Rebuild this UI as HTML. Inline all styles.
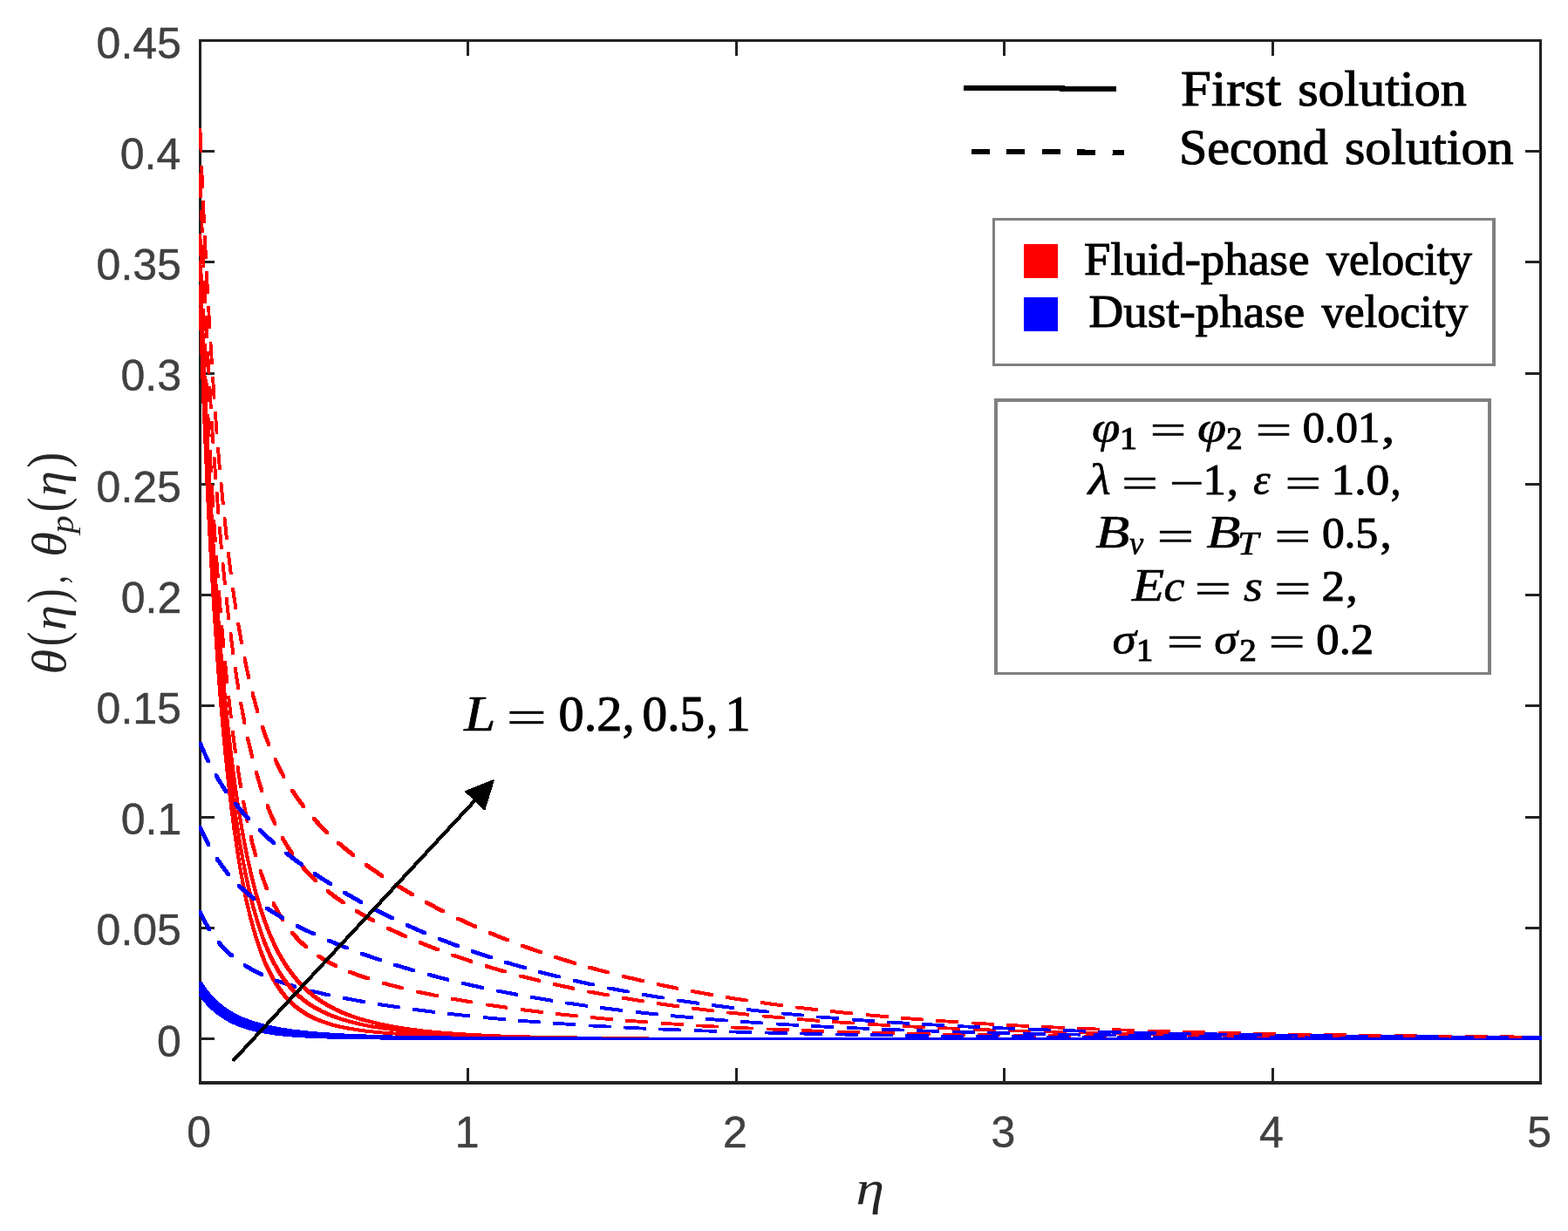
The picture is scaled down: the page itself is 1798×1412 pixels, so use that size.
<!DOCTYPE html>
<html lang="en">
<head>
<meta charset="utf-8">
<title>Temperature profiles for different values of L</title>
<style>
html,body{margin:0;padding:0;background:#fff}
body{width:1798px;height:1412px;overflow:hidden}
svg{display:block}
text{font-kerning:none;white-space:pre}
.sans{font-family:"Liberation Sans",sans-serif;fill:#404040;stroke:#404040;stroke-width:0.45px}
.rm{font-family:"Liberation Serif",serif;fill:#000;stroke:#000;stroke-width:1.1px}
.it{font-family:"Liberation Serif",serif;font-style:italic;fill:#000;stroke:#000;stroke-width:0.6px}
.lab{fill:#262626;stroke:none}
.op{stroke:#000;stroke-width:0.5px}
</style>
</head>
<body>
<svg width="1798" height="1412" viewBox="0 0 1798 1412" role="img" aria-label="Temperature profiles of fluid and dust phases for L = 0.2, 0.5, 1">
<rect x="0" y="0" width="1798" height="1412" fill="#ffffff"/>
<g stroke="#222222" stroke-width="3" fill="none" shape-rendering="crispEdges">
<path d="M229.5 46.5H1766.5V1242.0H229.5Z" stroke-width="3.2"/>
<path d="M536.9 1242.0V1224.5M536.9 46.5V64.0M844.3 1242.0V1224.5M844.3 46.5V64.0M1151.7 1242.0V1224.5M1151.7 46.5V64.0M1459.1 1242.0V1224.5M1459.1 46.5V64.0M229.5 1191.5H246.0M1766.5 1191.5H1749.0M229.5 1064.3H246.0M1766.5 1064.3H1749.0M229.5 937.1H246.0M1766.5 937.1H1749.0M229.5 809.8H246.0M1766.5 809.8H1749.0M229.5 682.6H246.0M1766.5 682.6H1749.0M229.5 555.4H246.0M1766.5 555.4H1749.0M229.5 428.2H246.0M1766.5 428.2H1749.0M229.5 300.9H246.0M1766.5 300.9H1749.0M229.5 173.7H246.0M1766.5 173.7H1749.0"/>
</g>
<g shape-rendering="crispEdges">
<path d="M227.7 351.5L231.3 351.5L234.9 454L239.1 551.7L241.4 598.4L243.9 643.5L246.4 686.3L249.1 726.7L251.8 764.9L254.5 800.3L257.4 833.5L260.4 865.1L263.6 894.9L266.7 922L270 947.2L273.5 971.1L276.9 992.3L280.5 1012.2L284.3 1030.8L288.2 1047.5L292.3 1063L296.7 1077.6L301.1 1090.4L305.9 1102.5L311 1113.3L316.2 1123L321.8 1131.8L324.7 1135.7L327.7 1139.6L330.9 1143.2L334 1146.5L337.3 1149.7L340.8 1152.8L344.4 1155.6L348.1 1158.2L352.1 1160.8L356.2 1163.1L362.5 1166.3L369.1 1169.1L376.2 1171.6L384 1174L392.3 1176L401.4 1177.8L411.2 1179.4L421.8 1180.9L433.5 1182.1L446.3 1183.2L460.6 1184.2L476.5 1185.1L514.3 1186.6L560.6 1187.7L603.7 1188.3L654.2 1188.8L694.4 1189.1L743.8 1189.1L744.3 1189.7L1768.3 1189.7L1768.3 1193.3L1764.7 1193.3L740.7 1193.3L740.2 1192.7L690.8 1192.7L650.6 1192.4L600.1 1191.9L557 1191.3L510.7 1190.2L472.9 1188.7L457 1187.8L442.7 1186.8L429.9 1185.7L418.2 1184.5L407.6 1183L397.8 1181.4L388.7 1179.6L380.4 1177.6L372.6 1175.2L365.5 1172.7L358.9 1169.9L352.6 1166.7L348.5 1164.4L344.5 1161.8L340.8 1159.2L337.2 1156.4L333.7 1153.3L330.4 1150.1L327.3 1146.8L324.1 1143.2L321.1 1139.3L318.2 1135.4L312.6 1126.6L307.4 1116.9L302.3 1106.1L297.5 1094L293.1 1081.2L288.7 1066.6L284.6 1051.1L280.7 1034.4L276.9 1015.8L273.3 995.9L269.9 974.7L266.4 950.8L263.1 925.6L260 898.5L256.8 868.7L253.8 837.1L250.9 803.9L248.2 768.5L245.5 730.3L242.8 689.9L240.3 647.1L237.8 602L235.5 555.3L231.3 457.6L227.7 355.1Z" fill="#ff0000"/>
<path d="M227.7 1138.5L231.3 1138.5L236.5 1145L241.9 1151L247.7 1156.4L253.7 1161.2L260.1 1165.5L266.9 1169.4L274.1 1172.8L281.8 1175.8L290 1178.3L298.8 1180.5L308.3 1182.3L318.7 1183.9L330.1 1185.2L342.8 1186.3L357.3 1187.1L373.6 1187.8L408.7 1188.6L458.4 1189.1L544.4 1189.4L689.8 1189.6L690.3 1189.7L1768.3 1189.7L1768.3 1193.3L1764.7 1193.3L686.7 1193.3L686.2 1193.2L540.8 1193L454.8 1192.7L405.1 1192.2L370 1191.4L353.7 1190.7L339.2 1189.9L326.5 1188.8L315.1 1187.5L304.7 1185.9L295.2 1184.1L286.4 1181.9L278.2 1179.4L270.5 1176.4L263.3 1173L256.5 1169.1L250.1 1164.8L244.1 1160L238.3 1154.6L232.9 1148.6L227.7 1142.1Z" fill="#0000ff"/>
<path d="M227.7 268.3L231.3 268.3L232.3 295.6L232.3 299.2L228.7 299.2L227.7 271.9ZM229.5 313.6L233.1 313.6L234 336L234 339.6L230.4 339.6L229.5 317.2ZM231.1 354L234.7 354L235.7 376.4L235.7 380L232.1 380L231.1 357.6ZM232.9 394.4L236.5 394.4L237.5 416.9L237.5 420.5L233.9 420.5L232.9 398ZM234.7 434.8L238.3 434.8L239.4 457.3L239.4 460.9L235.8 460.9L234.7 438.4ZM236.7 475.2L240.3 475.2L241.5 497.7L241.5 501.3L237.9 501.3L236.7 478.8ZM238.9 515.6L242.5 515.6L243.7 538L243.7 541.6L240.1 541.6L238.9 519.2ZM241.2 556L244.8 556L246.1 578.4L246.1 582L242.5 582L241.2 559.6ZM243.6 596.3L247.2 596.3L248.7 618.8L248.7 622.4L245.1 622.4L243.6 599.9ZM246.3 636.7L249.9 636.7L251.6 659.1L251.6 662.7L248 662.7L246.3 640.3ZM249.3 677L252.9 677L254.7 699.5L254.7 703.1L251.1 703.1L249.3 680.6ZM252.6 717.4L256.2 717.4L258.2 739.8L258.2 743.4L254.6 743.4L252.6 721ZM256.2 757.6L259.8 757.6L262.1 780L262.1 783.6L258.5 783.6L256.2 761.2ZM260.4 797.9L264 797.9L266.5 820.2L266.5 823.8L262.9 823.8L260.4 801.5ZM265.1 838.1L268.7 838.1L271.7 860.4L271.7 864L268.1 864L265.1 841.7ZM270.7 878.1L274.3 878.1L277.8 900.3L277.8 903.9L274.2 903.9L270.7 881.7ZM277.4 918L281 918L285.4 940.1L285.4 943.7L281.8 943.7L277.4 921.6ZM285.7 957.6L289.3 957.6L292 968.5L294.9 979.4L294.9 983L291.3 983L288.4 972.1L285.7 961.2ZM296.5 996.5L300.1 996.5L304 1007.6L307.8 1017.7L307.8 1021.3L304.2 1021.3L300.4 1011.2L296.5 1000.1ZM311.5 1034.1L315.1 1034.1L320.5 1044.2L326.2 1053.7L326.2 1057.3L322.6 1057.3L316.9 1047.8L311.5 1037.7ZM333.2 1068.1L336.8 1068.1L340.6 1072.4L344.4 1076.5L348.5 1080.4L352.6 1084.1L352.6 1087.7L349 1087.7L344.9 1084L340.8 1080.1L337 1076L333.2 1071.7ZM363.4 1094.8L367 1094.8L376.4 1100.6L386.6 1105.9L386.6 1109.5L383 1109.5L372.8 1104.2L363.4 1098.4ZM399.4 1113.1L403 1113.1L413.1 1116.9L424.2 1120.7L424.2 1124.3L420.6 1124.3L409.5 1120.5L399.4 1116.7ZM437.8 1125.9L441.4 1125.9L463.1 1131.7L463.1 1135.3L459.5 1135.3L437.8 1129.5ZM477 1135.8L480.6 1135.8L502.6 1140.4L502.6 1144L499 1144L477 1139.4ZM516.6 1143.8L520.2 1143.8L542.4 1147.7L542.4 1151.3L538.8 1151.3L516.6 1147.4ZM556.5 1150.6L560.1 1150.6L582.4 1153.9L582.4 1157.5L578.8 1157.5L556.5 1154.2ZM596.5 1156.3L600.1 1156.3L622.5 1159.1L622.5 1162.7L618.9 1162.7L596.5 1159.9ZM636.7 1161.2L640.3 1161.2L662.7 1163.6L662.7 1167.2L659.1 1167.2L636.7 1164.8ZM676.9 1165.3L680.5 1165.3L702.9 1167.4L702.9 1171L699.3 1171L676.9 1168.9ZM717.2 1168.9L720.8 1168.9L743.3 1170.6L743.3 1174.2L739.7 1174.2L717.2 1172.5ZM757.6 1171.9L761.2 1171.9L783.6 1173.4L783.6 1177L780 1177L757.6 1175.5ZM797.9 1174.5L801.5 1174.5L824 1175.8L824 1179.4L820.4 1179.4L797.9 1178.1ZM838.3 1176.7L841.9 1176.7L864.4 1177.8L864.4 1181.4L860.8 1181.4L838.3 1180.3ZM878.7 1178.6L882.3 1178.6L904.8 1179.5L904.8 1183.1L901.2 1183.1L878.7 1182.2ZM919.1 1180.2L922.7 1180.2L945.2 1181L945.2 1184.6L941.6 1184.6L919.1 1183.8ZM959.6 1181.5L963.2 1181.5L985.7 1182.2L985.7 1185.8L982.1 1185.8L959.6 1185.1ZM1000 1182.7L1003.6 1182.7L1026.1 1183.3L1026.1 1186.9L1022.5 1186.9L1000 1186.3ZM1040.4 1183.7L1044 1183.7L1066.5 1184.2L1066.5 1187.8L1062.9 1187.8L1040.4 1187.3ZM1080.9 1184.5L1084.5 1184.5L1107 1185L1107 1188.6L1103.4 1188.6L1080.9 1188.1ZM1121.3 1185.3L1124.9 1185.3L1147.4 1185.6L1147.4 1189.2L1143.8 1189.2L1121.3 1188.9ZM1161.8 1185.9L1165.4 1185.9L1187.9 1186.2L1187.9 1189.8L1184.3 1189.8L1161.8 1189.5ZM1202.2 1186.4L1205.8 1186.4L1228.3 1186.7L1228.3 1190.3L1224.7 1190.3L1202.2 1190ZM1242.7 1186.8L1246.3 1186.8L1268.8 1187.1L1268.8 1190.7L1265.2 1190.7L1242.7 1190.4ZM1283.1 1187.2L1286.7 1187.2L1309.2 1187.4L1309.2 1191L1305.6 1191L1283.1 1190.8ZM1323.6 1187.6L1327.2 1187.6L1349.7 1187.7L1349.7 1191.3L1346.1 1191.3L1323.6 1191.2ZM1364 1187.8L1367.6 1187.8L1390.1 1188L1390.1 1191.6L1386.5 1191.6L1364 1191.4ZM1404.5 1188.1L1408.1 1188.1L1430.6 1188.2L1430.6 1191.8L1427 1191.8L1404.5 1191.7ZM1444.9 1188.3L1448.5 1188.3L1471 1188.4L1471 1192L1467.4 1192L1444.9 1191.9ZM1485.4 1188.4L1489 1188.4L1511.5 1188.5L1511.5 1192.1L1507.9 1192.1L1485.4 1192ZM1525.8 1188.6L1529.4 1188.6L1551.9 1188.7L1551.9 1192.3L1548.3 1192.3L1525.8 1192.2ZM1566.3 1188.7L1569.9 1188.7L1592.4 1188.8L1592.4 1192.4L1588.8 1192.4L1566.3 1192.3ZM1606.7 1188.8L1610.3 1188.8L1632.8 1188.9L1632.8 1192.5L1629.2 1192.5L1606.7 1192.4ZM1647.2 1188.9L1650.8 1188.9L1673.3 1189L1673.3 1192.6L1669.7 1192.6L1647.2 1192.5ZM1687.6 1189L1691.2 1189L1713.7 1189L1713.7 1192.6L1710.1 1192.6L1687.6 1192.6ZM1728.1 1189.1L1731.7 1189.1L1754.2 1189.1L1754.2 1192.7L1750.6 1192.7L1728.1 1192.7Z" fill="#ff0000"/>
<path d="M227.7 1044.2L231.3 1044.2L233.6 1049.4L236.2 1054.4L238.9 1059.3L241.7 1064.1L241.7 1067.7L238.1 1067.7L235.3 1062.9L232.6 1058L230 1053L227.7 1047.8ZM248.6 1078.7L252.2 1078.7L255.8 1083L259.7 1087.1L263.7 1091L267.9 1094.7L267.9 1098.3L264.3 1098.3L260.1 1094.6L256.1 1090.7L252.2 1086.6L248.6 1082.3ZM278.7 1105.4L282.3 1105.4L291.8 1110.9L302.1 1116.1L302.1 1119.7L298.5 1119.7L288.2 1114.5L278.7 1109ZM315.1 1122.9L318.7 1122.9L329 1126.5L340.1 1129.9L340.1 1133.5L336.5 1133.5L325.4 1130.1L315.1 1126.5ZM353.8 1134.6L357.4 1134.6L379.3 1139.7L379.3 1143.3L375.7 1143.3L353.8 1138.2ZM393.3 1143.2L396.9 1143.2L419.1 1147.3L419.1 1150.9L415.5 1150.9L393.3 1146.8ZM433.2 1150.3L436.8 1150.3L459 1153.6L459 1157.2L455.4 1157.2L433.2 1153.9ZM473.2 1156.1L476.8 1156.1L499.1 1159L499.1 1162.6L495.5 1162.6L473.2 1159.7ZM513.3 1161.1L516.9 1161.1L539.3 1163.5L539.3 1167.1L535.7 1167.1L513.3 1164.7ZM553.6 1165.3L557.2 1165.3L579.6 1167.4L579.6 1171L576 1171L553.6 1168.9ZM593.8 1168.9L597.4 1168.9L619.9 1170.6L619.9 1174.2L616.3 1174.2L593.8 1172.5ZM634.2 1171.9L637.8 1171.9L660.2 1173.4L660.2 1177L656.6 1177L634.2 1175.5ZM674.5 1174.6L678.1 1174.6L700.6 1175.8L700.6 1179.4L697 1179.4L674.5 1178.2ZM714.9 1176.8L718.5 1176.8L741 1177.9L741 1181.5L737.4 1181.5L714.9 1180.4ZM755.3 1178.7L758.9 1178.7L781.4 1179.6L781.4 1183.2L777.8 1183.2L755.3 1182.3ZM795.8 1180.3L799.4 1180.3L821.8 1181.1L821.8 1184.7L818.2 1184.7L795.8 1183.9ZM836.2 1181.7L839.8 1181.7L862.3 1182.3L862.3 1185.9L858.7 1185.9L836.2 1185.3ZM876.6 1182.8L880.2 1182.8L902.7 1183.4L902.7 1187L899.1 1187L876.6 1186.4ZM917.1 1183.8L920.7 1183.8L943.1 1184.3L943.1 1187.9L939.5 1187.9L917.1 1187.4ZM957.5 1184.7L961.1 1184.7L983.6 1185.1L983.6 1188.7L980 1188.7L957.5 1188.3ZM997.9 1185.4L1001.5 1185.4L1024 1185.7L1024 1189.3L1020.4 1189.3L997.9 1189ZM1038.4 1186L1042 1186L1064.5 1186.3L1064.5 1189.9L1060.9 1189.9L1038.4 1189.6ZM1078.8 1186.5L1082.4 1186.5L1104.9 1186.8L1104.9 1190.4L1101.3 1190.4L1078.8 1190.1ZM1119.3 1187L1122.9 1187L1145.4 1187.2L1145.4 1190.8L1141.8 1190.8L1119.3 1190.6ZM1159.7 1187.3L1163.3 1187.3L1185.8 1187.5L1185.8 1191.1L1182.2 1191.1L1159.7 1190.9ZM1200.2 1187.7L1203.8 1187.7L1226.3 1187.8L1226.3 1191.4L1222.7 1191.4L1200.2 1191.3ZM1240.6 1187.9L1244.2 1187.9L1266.7 1188.1L1266.7 1191.7L1263.1 1191.7L1240.6 1191.5ZM1281.1 1188.2L1284.7 1188.2L1307.2 1188.3L1307.2 1191.9L1303.6 1191.9L1281.1 1191.8ZM1321.5 1188.4L1325.1 1188.4L1347.6 1188.5L1347.6 1192.1L1344 1192.1L1321.5 1192ZM1362 1188.6L1365.6 1188.6L1388.1 1188.6L1388.1 1192.2L1384.5 1192.2L1362 1192.2ZM1402.4 1188.7L1406 1188.7L1428.5 1188.8L1428.5 1192.4L1424.9 1192.4L1402.4 1192.3ZM1442.9 1188.8L1446.5 1188.8L1469 1188.9L1469 1192.5L1465.4 1192.5L1442.9 1192.4ZM1483.3 1188.9L1486.9 1188.9L1509.4 1189L1509.4 1192.6L1505.8 1192.6L1483.3 1192.5ZM1523.8 1189L1527.4 1189L1549.9 1189.1L1549.9 1192.7L1546.3 1192.7L1523.8 1192.6ZM1564.2 1189.1L1567.8 1189.1L1590.3 1189.1L1590.3 1192.7L1586.7 1192.7L1564.2 1192.7ZM1604.7 1189.2L1608.3 1189.2L1630.8 1189.2L1630.8 1192.8L1627.2 1192.8L1604.7 1192.8ZM1645.1 1189.2L1648.7 1189.2L1671.2 1189.2L1671.2 1192.8L1667.6 1192.8L1645.1 1192.8ZM1685.6 1189.3L1689.2 1189.3L1711.7 1189.3L1711.7 1192.9L1708.1 1192.9L1685.6 1192.9ZM1726 1189.3L1729.6 1189.3L1752.1 1189.3L1752.1 1192.9L1748.5 1192.9L1726 1192.9Z" fill="#0000ff"/>
<path d="M227.7 326.9L231.3 326.9L235.8 440.4L240.5 542.8L242.9 590.3L245.4 634.7L248.1 677.3L250.8 717L253.5 754.2L256.4 789.3L259.4 822.8L262.4 853.8L265.6 882.9L268.9 910.1L272.4 935.9L276 959.6L279.7 981.3L283.5 1001L287.5 1019.3L291.6 1036.4L296 1052L300.6 1066.4L305.3 1079.5L310.5 1091.7L315.9 1102.7L321.5 1112.6L324.5 1117.2L327.5 1121.6L330.7 1125.8L334 1129.9L337.3 1133.5L340.8 1137.2L344.4 1140.5L348.3 1143.9L352.1 1146.8L356.2 1149.7L360.3 1152.4L364.8 1155.1L372.2 1158.9L380.3 1162.5L388.7 1165.7L398 1168.6L407.9 1171.3L418.7 1173.8L430.3 1176L442.6 1177.9L456.1 1179.7L470.8 1181.3L486.5 1182.7L503.6 1184L522.2 1185.1L542.4 1186L588.2 1187.5L624.7 1188.2L666.5 1188.8L703.3 1189.1L743.8 1189.1L744.3 1189.7L1768.3 1189.7L1768.3 1193.3L1764.7 1193.3L740.7 1193.3L740.2 1192.7L699.7 1192.7L662.9 1192.4L621.1 1191.8L584.6 1191.1L538.8 1189.6L518.6 1188.7L500 1187.6L482.9 1186.3L467.2 1184.9L452.5 1183.3L439 1181.5L426.7 1179.6L415.1 1177.4L404.3 1174.9L394.4 1172.2L385.1 1169.3L376.7 1166.1L368.6 1162.5L361.2 1158.7L356.7 1156L352.6 1153.3L348.5 1150.4L344.7 1147.5L340.8 1144.1L337.2 1140.8L333.7 1137.1L330.4 1133.5L327.1 1129.4L323.9 1125.2L320.9 1120.8L317.9 1116.2L312.3 1106.3L306.9 1095.3L301.7 1083.1L297 1070L292.4 1055.6L288 1040L283.9 1022.9L279.9 1004.6L276.1 984.9L272.4 963.2L268.8 939.5L265.3 913.7L262 886.5L258.8 857.4L255.8 826.4L252.8 792.9L249.9 757.8L247.2 720.6L244.5 680.9L241.8 638.3L239.3 593.9L236.9 546.4L232.2 444L227.7 330.5Z" fill="#ff0000"/>
<path d="M227.7 1132.1L231.3 1132.1L236.7 1139.4L242.4 1146L248.4 1152L254.8 1157.3L261.7 1162.1L269 1166.3L276.9 1170L285.3 1173.2L294.3 1175.9L304.1 1178.3L314.9 1180.4L326.8 1182.1L340 1183.6L355.1 1184.8L371.9 1185.8L391.5 1186.7L435 1187.9L492.8 1188.7L559.8 1189.2L689.8 1189.6L690.3 1189.7L1768.3 1189.7L1768.3 1193.3L1764.7 1193.3L686.7 1193.3L686.2 1193.2L556.2 1192.8L489.2 1192.3L431.4 1191.5L387.9 1190.3L368.3 1189.4L351.5 1188.4L336.4 1187.2L323.2 1185.7L311.3 1184L300.5 1181.9L290.7 1179.5L281.7 1176.8L273.3 1173.6L265.4 1169.9L258.1 1165.7L251.2 1160.9L244.8 1155.6L238.8 1149.6L233.1 1143L227.7 1135.7Z" fill="#0000ff"/>
<path d="M227.7 198.2L231.3 198.2L232.1 223L232.1 226.6L228.5 226.6L227.7 201.8ZM229.2 240.9L232.8 240.9L233.6 263.4L233.6 267L230 267L229.2 244.5ZM230.7 281.3L234.3 281.3L235.3 303.8L235.3 307.4L231.7 307.4L230.7 284.9ZM232.5 321.7L236.1 321.7L237.1 344.2L237.1 347.8L233.5 347.8L232.5 325.3ZM234.3 362.1L237.9 362.1L239.1 384.6L239.1 388.2L235.5 388.2L234.3 365.7ZM236.4 402.5L240 402.5L241.2 425L241.2 428.6L237.6 428.6L236.4 406.1ZM238.7 442.9L242.3 442.9L243.6 465.4L243.6 469L240 469L238.7 446.5ZM241.1 483.3L244.7 483.3L246.2 505.7L246.2 509.3L242.6 509.3L241.1 486.9ZM243.8 523.7L247.4 523.7L249.1 546.1L249.1 549.7L245.5 549.7L243.8 527.3ZM246.8 564L250.4 564L252.2 586.4L252.2 590L248.6 590L246.8 567.6ZM250.1 604.3L253.7 604.3L255.7 626.7L255.7 630.3L252.1 630.3L250.1 607.9ZM253.7 644.6L257.3 644.6L259.6 667L259.6 670.6L256 670.6L253.7 648.2ZM257.9 684.8L261.5 684.8L264 707.2L264 710.8L260.4 710.8L257.9 688.4ZM262.6 725L266.2 725L269.1 747.3L269.1 750.9L265.5 750.9L262.6 728.6ZM268 765.1L271.6 765.1L275 787.3L275 790.9L271.4 790.9L268 768.7ZM274.4 805L278 805L282.2 827.1L282.2 830.7L278.6 830.7L274.4 808.6ZM282.2 844.7L285.8 844.7L291 866.6L291 870.2L287.4 870.2L282.2 848.3ZM292 884L295.6 884L298.8 894.8L302.2 905.5L302.2 909.1L298.6 909.1L295.2 898.4L292 887.6ZM304.7 922.3L308.3 922.3L312.7 933.1L317.2 943L317.2 946.6L313.6 946.6L309.1 936.7L304.7 925.9ZM321.8 959L325.4 959L331.2 968.7L337.4 978L337.4 981.6L333.8 981.6L327.6 972.3L321.8 962.6ZM344.8 992.1L348.4 992.1L356 1000.5L363.9 1008.5L363.9 1012.1L360.3 1012.1L352.4 1004.1L344.8 995.7ZM373.9 1020.2L377.5 1020.2L386.2 1027L395.6 1033.6L395.6 1037.2L392 1037.2L382.6 1030.6L373.9 1023.8ZM407.1 1043.3L410.7 1043.3L420.1 1048.8L430.2 1054.4L430.2 1058L426.6 1058L416.5 1052.4L407.1 1046.9ZM442.6 1062.6L446.2 1062.6L456.1 1067.3L466.6 1072.1L466.6 1075.7L463 1075.7L452.5 1070.9L442.6 1066.2ZM479.5 1079.2L483.1 1079.2L504 1087.5L504 1091.1L500.4 1091.1L479.5 1082.8ZM517.3 1093.7L520.9 1093.7L542.1 1100.9L542.1 1104.5L538.5 1104.5L517.3 1097.3ZM555.7 1106.4L559.3 1106.4L580.8 1112.7L580.8 1116.3L577.2 1116.3L555.7 1110ZM594.5 1117.5L598.1 1117.5L619.9 1123L619.9 1126.6L616.3 1126.6L594.5 1121.1ZM633.8 1127.2L637.4 1127.2L659.4 1132L659.4 1135.6L655.8 1135.6L633.8 1130.8ZM673.4 1135.6L677 1135.6L699.1 1139.8L699.1 1143.4L695.5 1143.4L673.4 1139.2ZM713.1 1142.9L716.7 1142.9L739 1146.6L739 1150.2L735.4 1150.2L713.1 1146.5ZM753.1 1149.3L756.7 1149.3L779 1152.5L779 1156.1L775.4 1156.1L753.1 1152.9ZM793.2 1154.8L796.8 1154.8L819.1 1157.6L819.1 1161.2L815.5 1161.2L793.2 1158.4ZM833.3 1159.6L836.9 1159.6L859.3 1161.9L859.3 1165.5L855.7 1165.5L833.3 1163.2ZM873.6 1163.7L877.2 1163.7L899.6 1165.7L899.6 1169.3L896 1169.3L873.6 1167.3ZM913.9 1167.2L917.5 1167.2L939.9 1169L939.9 1172.6L936.3 1172.6L913.9 1170.8ZM954.2 1170.3L957.8 1170.3L980.3 1171.8L980.3 1175.4L976.7 1175.4L954.2 1173.9ZM994.6 1173L998.2 1173L1020.6 1174.3L1020.6 1177.9L1017 1177.9L994.6 1176.6ZM1035 1175.2L1038.6 1175.2L1061 1176.4L1061 1180L1057.4 1180L1035 1178.8ZM1075.4 1177.2L1079 1177.2L1101.4 1178.2L1101.4 1181.8L1097.8 1181.8L1075.4 1180.8ZM1115.8 1178.9L1119.4 1178.9L1141.9 1179.8L1141.9 1183.4L1138.3 1183.4L1115.8 1182.5ZM1156.2 1180.4L1159.8 1180.4L1182.3 1181.1L1182.3 1184.7L1178.7 1184.7L1156.2 1184ZM1196.6 1181.6L1200.2 1181.6L1222.7 1182.3L1222.7 1185.9L1219.1 1185.9L1196.6 1185.2ZM1237.1 1182.7L1240.7 1182.7L1263.1 1183.3L1263.1 1186.9L1259.5 1186.9L1237.1 1186.3ZM1277.5 1183.7L1281.1 1183.7L1303.6 1184.1L1303.6 1187.7L1300 1187.7L1277.5 1187.3ZM1317.9 1184.5L1321.5 1184.5L1344 1184.9L1344 1188.5L1340.4 1188.5L1317.9 1188.1ZM1358.4 1185.2L1362 1185.2L1384.5 1185.5L1384.5 1189.1L1380.9 1189.1L1358.4 1188.8ZM1398.8 1185.8L1402.4 1185.8L1424.9 1186.1L1424.9 1189.7L1421.3 1189.7L1398.8 1189.4ZM1439.3 1186.3L1442.9 1186.3L1465.4 1186.6L1465.4 1190.2L1461.8 1190.2L1439.3 1189.9ZM1479.7 1186.7L1483.3 1186.7L1505.8 1187L1505.8 1190.6L1502.2 1190.6L1479.7 1190.3ZM1520.2 1187.1L1523.8 1187.1L1546.3 1187.3L1546.3 1190.9L1542.7 1190.9L1520.2 1190.7ZM1560.6 1187.5L1564.2 1187.5L1586.7 1187.6L1586.7 1191.2L1583.1 1191.2L1560.6 1191.1ZM1601.1 1187.8L1604.7 1187.8L1627.2 1187.9L1627.2 1191.5L1623.6 1191.5L1601.1 1191.4ZM1641.5 1188L1645.1 1188L1667.6 1188.1L1667.6 1191.7L1664 1191.7L1641.5 1191.6ZM1682 1188.2L1685.6 1188.2L1708.1 1188.3L1708.1 1191.9L1704.5 1191.9L1682 1191.8ZM1722.4 1188.4L1726 1188.4L1748.5 1188.5L1748.5 1192.1L1744.9 1192.1L1722.4 1192ZM1762.9 1188.6L1766.5 1188.6L1768.3 1188.6L1768.3 1192.2L1764.7 1192.2L1762.9 1192.2Z" fill="#ff0000"/>
<path d="M227.7 947.2L231.3 947.2L236.1 957.6L241.1 967.4L241.1 971L237.5 971L232.5 961.2L227.7 950.8ZM246.7 982.8L250.3 982.8L256.7 992.1L263.6 1000.9L263.6 1004.5L260 1004.5L253.1 995.7L246.7 986.4ZM272.2 1014.1L275.8 1014.1L284 1021.6L292.7 1028.9L292.7 1032.5L289.1 1032.5L280.4 1025.2L272.2 1017.7ZM303.7 1039.5L307.3 1039.5L316.5 1045.5L326.4 1051.3L326.4 1054.9L322.8 1054.9L312.9 1049.1L303.7 1043.1ZM338.5 1059.9L342.1 1059.9L351.9 1064.9L362.3 1069.8L362.3 1073.4L358.7 1073.4L348.3 1068.5L338.5 1063.5ZM375.1 1077.1L378.7 1077.1L399.6 1085.6L399.6 1089.2L396 1089.2L375.1 1080.7ZM412.8 1092L416.4 1092L437.6 1099.4L437.6 1103L434 1103L412.8 1095.6ZM451.1 1104.9L454.7 1104.9L476.2 1111.4L476.2 1115L472.6 1115L451.1 1108.5ZM489.9 1116.2L493.5 1116.2L515.3 1121.9L515.3 1125.5L511.7 1125.5L489.9 1119.8ZM529.1 1126.1L532.7 1126.1L554.7 1131.1L554.7 1134.7L551.1 1134.7L529.1 1129.7ZM568.6 1134.7L572.2 1134.7L594.3 1139L594.3 1142.6L590.7 1142.6L568.6 1138.3ZM608.4 1142.2L612 1142.2L634.2 1145.9L634.2 1149.5L630.6 1149.5L608.4 1145.8ZM648.3 1148.7L651.9 1148.7L674.2 1151.9L674.2 1155.5L670.6 1155.5L648.3 1152.3ZM688.4 1154.3L692 1154.3L714.3 1157.1L714.3 1160.7L710.7 1160.7L688.4 1157.9ZM728.5 1159.2L732.1 1159.2L754.5 1161.6L754.5 1165.2L750.9 1165.2L728.5 1162.8ZM768.8 1163.4L772.4 1163.4L794.8 1165.4L794.8 1169L791.2 1169L768.8 1167ZM809 1167L812.6 1167L835.1 1168.8L835.1 1172.4L831.5 1172.4L809 1170.6ZM849.4 1170.1L853 1170.1L875.4 1171.7L875.4 1175.3L871.8 1175.3L849.4 1173.7ZM889.7 1172.8L893.3 1172.8L915.8 1174.1L915.8 1177.7L912.2 1177.7L889.7 1176.4ZM930.1 1175.1L933.7 1175.1L956.2 1176.3L956.2 1179.9L952.6 1179.9L930.1 1178.7ZM970.5 1177.1L974.1 1177.1L996.6 1178.1L996.6 1181.7L993 1181.7L970.5 1180.7ZM1010.9 1178.9L1014.5 1178.9L1037 1179.7L1037 1183.3L1033.4 1183.3L1010.9 1182.5ZM1051.4 1180.4L1055 1180.4L1077.4 1181.1L1077.4 1184.7L1073.8 1184.7L1051.4 1184ZM1091.8 1181.6L1095.4 1181.6L1117.9 1182.3L1117.9 1185.9L1114.3 1185.9L1091.8 1185.2ZM1132.2 1182.8L1135.8 1182.8L1158.3 1183.3L1158.3 1186.9L1154.7 1186.9L1132.2 1186.4ZM1172.7 1183.7L1176.3 1183.7L1198.8 1184.2L1198.8 1187.8L1195.2 1187.8L1172.7 1187.3ZM1213.1 1184.5L1216.7 1184.5L1239.2 1184.9L1239.2 1188.5L1235.6 1188.5L1213.1 1188.1ZM1253.5 1185.2L1257.1 1185.2L1279.6 1185.6L1279.6 1189.2L1276 1189.2L1253.5 1188.8ZM1294 1185.9L1297.6 1185.9L1320.1 1186.2L1320.1 1189.8L1316.5 1189.8L1294 1189.5ZM1334.4 1186.4L1338 1186.4L1360.5 1186.6L1360.5 1190.2L1356.9 1190.2L1334.4 1190ZM1374.9 1186.8L1378.5 1186.8L1401 1187.1L1401 1190.7L1397.4 1190.7L1374.9 1190.4ZM1415.3 1187.2L1418.9 1187.2L1441.4 1187.4L1441.4 1191L1437.8 1191L1415.3 1190.8ZM1455.8 1187.6L1459.4 1187.6L1481.9 1187.7L1481.9 1191.3L1478.3 1191.3L1455.8 1191.2ZM1496.2 1187.9L1499.8 1187.9L1522.3 1188L1522.3 1191.6L1518.7 1191.6L1496.2 1191.5ZM1536.7 1188.1L1540.3 1188.1L1562.8 1188.2L1562.8 1191.8L1559.2 1191.8L1536.7 1191.7ZM1577.1 1188.3L1580.7 1188.3L1603.2 1188.4L1603.2 1192L1599.6 1192L1577.1 1191.9ZM1617.6 1188.5L1621.2 1188.5L1643.7 1188.6L1643.7 1192.2L1640.1 1192.2L1617.6 1192.1ZM1658 1188.7L1661.6 1188.7L1684.1 1188.8L1684.1 1192.4L1680.5 1192.4L1658 1192.3ZM1698.5 1188.8L1702.1 1188.8L1724.6 1188.9L1724.6 1192.5L1721 1192.5L1698.5 1192.4ZM1738.9 1188.9L1742.5 1188.9L1765 1189L1765 1192.6L1761.4 1192.6L1738.9 1192.5Z" fill="#0000ff"/>
<path d="M227.7 298.5L231.3 298.5L235.8 415L238.2 469.2L240.7 519.9L243.2 568.4L245.9 613.7L248.6 657L251.4 697.3L254.3 735.9L257.3 771.4L260.5 805.2L263.8 837.3L267.2 866.6L270.8 894.6L274.5 920.5L278.4 944.4L282.4 966.8L286.6 987.2L291 1006.2L295.6 1023.9L300.4 1040.2L305.5 1055.2L310.8 1069L316.5 1081.9L322.5 1093.6L328.8 1104.1L332.2 1109.1L335.6 1113.9L339.1 1118.4L342.8 1122.9L346.7 1127.1L350.6 1131.1L354.7 1134.8L358.8 1138.4L363 1141.7L367.5 1145L372.2 1148L376.9 1150.9L385 1155.3L393.3 1159.2L402.5 1162.9L412 1166.1L422.1 1169.1L433.2 1171.9L445.1 1174.4L457.7 1176.7L471.2 1178.7L485.5 1180.5L501.1 1182.1L517.7 1183.4L535.7 1184.6L555.3 1185.7L576.6 1186.6L599.7 1187.3L631.7 1188.1L668.5 1188.6L718.7 1189.1L743.8 1189.1L744.3 1189.7L1768.3 1189.7L1768.3 1193.3L1764.7 1193.3L740.7 1193.3L740.2 1192.7L715.1 1192.7L664.9 1192.2L628.1 1191.7L596.1 1190.9L573 1190.2L551.7 1189.3L532.1 1188.2L514.1 1187L497.5 1185.7L481.9 1184.1L467.6 1182.3L454.1 1180.3L441.5 1178L429.6 1175.5L418.5 1172.7L408.4 1169.7L398.9 1166.5L389.7 1162.8L381.4 1158.9L373.3 1154.5L368.6 1151.6L363.9 1148.6L359.4 1145.3L355.2 1142L351.1 1138.4L347 1134.7L343.1 1130.7L339.2 1126.5L335.5 1122L332 1117.5L328.6 1112.7L325.2 1107.7L318.9 1097.2L312.9 1085.5L307.2 1072.6L301.9 1058.8L296.8 1043.8L292 1027.5L287.4 1009.8L283 990.8L278.8 970.4L274.8 948L270.9 924.1L267.2 898.2L263.6 870.2L260.2 840.9L256.9 808.8L253.7 775L250.7 739.5L247.8 700.9L245 660.6L242.3 617.3L239.6 572L237.1 523.5L234.6 472.8L232.2 418.6L227.7 302.1Z" fill="#ff0000"/>
<path d="M227.7 1125.6L231.3 1125.6L236.6 1133.6L239.5 1137.3L242.4 1140.7L245.4 1144L248.6 1147.2L251.8 1150.1L255.3 1152.9L258.8 1155.6L262.5 1158.1L266.3 1160.4L270.4 1162.6L278.9 1166.7L288.4 1170.3L298.5 1173.4L309.7 1176.1L322 1178.5L335.8 1180.6L350.8 1182.3L367.8 1183.8L386.7 1185.1L408.1 1186.1L450.4 1187.5L504.3 1188.4L582.2 1189.1L689.8 1189.5L690.3 1189.7L1768.3 1189.7L1768.3 1193.3L1764.7 1193.3L686.7 1193.3L686.2 1193.1L578.6 1192.7L500.7 1192L446.8 1191.1L404.5 1189.7L383.1 1188.7L364.2 1187.4L347.2 1185.9L332.2 1184.2L318.4 1182.1L306.1 1179.7L294.9 1177L284.8 1173.9L275.3 1170.3L266.8 1166.2L262.7 1164L258.9 1161.7L255.2 1159.2L251.7 1156.5L248.2 1153.7L245 1150.8L241.8 1147.6L238.8 1144.3L235.9 1140.9L233 1137.2L227.7 1129.2Z" fill="#0000ff"/>
<path d="M227.7 147.4L231.3 147.4L232.3 171.6L232.3 175.2L228.7 175.2L227.7 151ZM229.4 189.6L233 189.6L234 212.1L234 215.7L230.4 215.7L229.4 193.2ZM231.2 230L234.8 230L235.8 252.5L235.8 256.1L232.2 256.1L231.2 233.6ZM233.1 270.4L236.7 270.4L237.8 292.9L237.8 296.5L234.2 296.5L233.1 274ZM235.1 310.8L238.7 310.8L239.9 333.3L239.9 336.9L236.3 336.9L235.1 314.4ZM237.3 351.2L240.9 351.2L242.2 373.6L242.2 377.2L238.6 377.2L237.3 354.8ZM239.7 391.6L243.3 391.6L244.7 414L244.7 417.6L241.1 417.6L239.7 395.2ZM242.3 431.9L245.9 431.9L247.4 454.4L247.4 458L243.8 458L242.3 435.5ZM245.1 472.3L248.7 472.3L250.4 494.7L250.4 498.3L246.8 498.3L245.1 475.9ZM248.2 512.6L251.8 512.6L253.7 535L253.7 538.6L250.1 538.6L248.2 516.2ZM251.7 552.9L255.3 552.9L257.5 575.3L257.5 578.9L253.9 578.9L251.7 556.5ZM255.7 593.2L259.3 593.2L261.7 615.5L261.7 619.1L258.1 619.1L255.7 596.8ZM260.1 633.4L263.7 633.4L266.5 655.7L266.5 659.3L262.9 659.3L260.1 637ZM265.3 673.5L268.9 673.5L272.1 695.7L272.1 699.3L268.5 699.3L265.3 677.1ZM271.4 713.5L275 713.5L278.8 735.6L278.8 739.2L275.2 739.2L271.4 717.1ZM278.6 753.3L282.2 753.3L287 775.3L287 778.9L283.4 778.9L278.6 756.9ZM287.6 792.7L291.2 792.7L294.1 803.6L297.1 814.4L297.1 818L293.5 818L290.5 807.2L287.6 796.3ZM298.9 831.5L302.5 831.5L306.2 842.2L310.2 852.7L310.2 856.3L306.6 856.3L302.6 845.8L298.9 835.1ZM313.7 869.2L317.3 869.2L322.2 879.3L327.4 889.2L327.4 892.8L323.8 892.8L318.6 882.9L313.7 872.8ZM333.1 904.6L336.7 904.6L343 914L349.7 923L349.7 926.6L346.1 926.6L339.4 917.6L333.1 908.2ZM357.6 936.7L361.2 936.7L368.7 944.8L376.8 953L376.8 956.6L373.2 956.6L365.1 948.4L357.6 940.3ZM386.4 965.1L390 965.1L398.5 972.3L407.4 979.4L407.4 983L403.8 983L394.9 975.9L386.4 968.7ZM418.1 990.2L421.7 990.2L430.9 996.7L440.2 1003L440.2 1006.6L436.6 1006.6L427.3 1000.3L418.1 993.8ZM451.7 1012.7L455.3 1012.7L474.6 1024.3L474.6 1027.9L471 1027.9L451.7 1016.3ZM486.6 1033.1L490.2 1033.1L510.1 1043.6L510.1 1047.2L506.5 1047.2L486.6 1036.7ZM522.6 1051.5L526.2 1051.5L546.7 1061L546.7 1064.6L543.1 1064.6L522.6 1055.1ZM559.5 1068.1L563.1 1068.1L584 1076.6L584 1080.2L580.4 1080.2L559.5 1071.7ZM597.1 1083L600.7 1083L621.9 1090.5L621.9 1094.1L618.3 1094.1L597.1 1086.6ZM635.4 1096.2L639 1096.2L660.5 1102.9L660.5 1106.5L656.9 1106.5L635.4 1099.8ZM674.1 1107.9L677.7 1107.9L699.4 1113.8L699.4 1117.4L695.8 1117.4L674.1 1111.5ZM713.2 1118.2L716.8 1118.2L738.7 1123.4L738.7 1127L735.1 1127L713.2 1121.8ZM752.6 1127.3L756.2 1127.3L778.2 1131.9L778.2 1135.5L774.6 1135.5L752.6 1130.9ZM792.3 1135.3L795.9 1135.3L818 1139.3L818 1142.9L814.4 1142.9L792.3 1138.9ZM832.1 1142.3L835.7 1142.3L857.9 1145.8L857.9 1149.4L854.3 1149.4L832.1 1145.9ZM872.1 1148.4L875.7 1148.4L898 1151.4L898 1155L894.4 1155L872.1 1152ZM912.2 1153.7L915.8 1153.7L938.1 1156.4L938.1 1160L934.5 1160L912.2 1157.3ZM952.4 1158.3L956 1158.3L978.4 1160.7L978.4 1164.3L974.8 1164.3L952.4 1161.9ZM992.6 1162.4L996.2 1162.4L1018.6 1164.4L1018.6 1168L1015 1168L992.6 1166ZM1032.9 1165.9L1036.5 1165.9L1058.9 1167.7L1058.9 1171.3L1055.3 1171.3L1032.9 1169.5ZM1073.2 1169L1076.8 1169L1099.3 1170.5L1099.3 1174.1L1095.7 1174.1L1073.2 1172.6ZM1113.6 1171.7L1117.2 1171.7L1139.7 1173L1139.7 1176.6L1136.1 1176.6L1113.6 1175.3ZM1154 1174L1157.6 1174L1180.1 1175.2L1180.1 1178.8L1176.5 1178.8L1154 1177.6ZM1194.4 1176L1198 1176L1220.5 1177.1L1220.5 1180.7L1216.9 1180.7L1194.4 1179.6ZM1234.8 1177.8L1238.4 1177.8L1260.9 1178.7L1260.9 1182.3L1257.3 1182.3L1234.8 1181.4ZM1275.2 1179.3L1278.8 1179.3L1301.3 1180.1L1301.3 1183.7L1297.7 1183.7L1275.2 1182.9ZM1315.6 1180.7L1319.2 1180.7L1341.7 1181.4L1341.7 1185L1338.1 1185L1315.6 1184.3ZM1356.1 1181.9L1359.7 1181.9L1382.2 1182.4L1382.2 1186L1378.6 1186L1356.1 1185.5ZM1396.5 1182.9L1400.1 1182.9L1422.6 1183.4L1422.6 1187L1419 1187L1396.5 1186.5ZM1437 1183.7L1440.6 1183.7L1463.1 1184.2L1463.1 1187.8L1459.5 1187.8L1437 1187.3ZM1477.4 1184.5L1481 1184.5L1503.5 1184.9L1503.5 1188.5L1499.9 1188.5L1477.4 1188.1ZM1517.8 1185.2L1521.4 1185.2L1543.9 1185.5L1543.9 1189.1L1540.3 1189.1L1517.8 1188.8ZM1558.3 1185.8L1561.9 1185.8L1584.4 1186.1L1584.4 1189.7L1580.8 1189.7L1558.3 1189.4ZM1598.7 1186.3L1602.3 1186.3L1624.8 1186.5L1624.8 1190.1L1621.2 1190.1L1598.7 1189.9ZM1639.2 1186.7L1642.8 1186.7L1665.3 1186.9L1665.3 1190.5L1661.7 1190.5L1639.2 1190.3ZM1679.6 1187.1L1683.2 1187.1L1705.7 1187.3L1705.7 1190.9L1702.1 1190.9L1679.6 1190.7ZM1720.1 1187.4L1723.7 1187.4L1746.2 1187.6L1746.2 1191.2L1742.6 1191.2L1720.1 1191ZM1760.5 1187.7L1764.1 1187.7L1768.3 1187.8L1768.3 1191.4L1764.7 1191.4L1760.5 1191.3Z" fill="#ff0000"/>
<path d="M227.7 850.7L231.3 850.7L235.8 861.1L240.6 871.2L240.6 874.8L237 874.8L232.2 864.7L227.7 854.3ZM245.5 887L249.1 887L254.9 896.6L261.1 906L261.1 909.6L257.5 909.6L251.3 900.2L245.5 890.6ZM268.3 920.3L271.9 920.3L279 928.9L286.6 937.3L286.6 940.9L283 940.9L275.4 932.5L268.3 923.9ZM295.7 950.1L299.3 950.1L307.3 957.6L316 965.2L316 968.8L312.4 968.8L303.7 961.2L295.7 953.7ZM326.2 976.5L329.8 976.5L338.7 983.4L347.8 990.1L347.8 993.7L344.2 993.7L335.1 987L326.2 980.1ZM358.9 1000.4L362.5 1000.4L381.4 1012.6L381.4 1016.2L377.8 1016.2L358.9 1004ZM393.1 1022L396.7 1022L416.2 1033.1L416.2 1036.7L412.6 1036.7L393.1 1025.6ZM428.5 1041.6L432.1 1041.6L452.2 1051.7L452.2 1055.3L448.6 1055.3L428.5 1045.2ZM464.8 1059.3L468.4 1059.3L489 1068.4L489 1072L485.4 1072L464.8 1062.9ZM502 1075.2L505.6 1075.2L526.6 1083.3L526.6 1086.9L523 1086.9L502 1078.8ZM539.9 1089.4L543.5 1089.4L564.8 1096.6L564.8 1100.2L561.2 1100.2L539.9 1093ZM578.3 1102L581.9 1102L603.5 1108.3L603.5 1111.9L599.9 1111.9L578.3 1105.6ZM617.2 1113.1L620.8 1113.1L642.6 1118.7L642.6 1122.3L639 1122.3L617.2 1116.7ZM656.5 1122.9L660.1 1122.9L682 1127.8L682 1131.4L678.4 1131.4L656.5 1126.5ZM696 1131.5L699.6 1131.5L721.7 1135.8L721.7 1139.4L718.1 1139.4L696 1135.1ZM735.7 1139L739.3 1139L761.5 1142.8L761.5 1146.4L757.9 1146.4L735.7 1142.6ZM775.7 1145.6L779.3 1145.6L801.5 1148.9L801.5 1152.5L797.9 1152.5L775.7 1149.2ZM815.7 1151.3L819.3 1151.3L841.6 1154.2L841.6 1157.8L838 1157.8L815.7 1154.9ZM855.8 1156.3L859.4 1156.3L881.8 1158.8L881.8 1162.4L878.2 1162.4L855.8 1159.9ZM896 1160.7L899.6 1160.7L922 1162.8L922 1166.4L918.4 1166.4L896 1164.3ZM936.3 1164.5L939.9 1164.5L962.3 1166.3L962.3 1169.9L958.7 1169.9L936.3 1168.1ZM976.6 1167.8L980.2 1167.8L1002.7 1169.4L1002.7 1173L999.1 1173L976.6 1171.4ZM1017 1170.6L1020.6 1170.6L1043 1172L1043 1175.6L1039.4 1175.6L1017 1174.2ZM1057.4 1173.1L1061 1173.1L1083.4 1174.3L1083.4 1177.9L1079.8 1177.9L1057.4 1176.7ZM1097.7 1175.3L1101.3 1175.3L1123.8 1176.4L1123.8 1180L1120.2 1180L1097.7 1178.9ZM1138.2 1177.2L1141.8 1177.2L1164.2 1178.1L1164.2 1181.7L1160.6 1181.7L1138.2 1180.8ZM1178.6 1178.8L1182.2 1178.8L1204.7 1179.6L1204.7 1183.2L1201.1 1183.2L1178.6 1182.4ZM1219 1180.2L1222.6 1180.2L1245.1 1180.9L1245.1 1184.5L1241.5 1184.5L1219 1183.8ZM1259.4 1181.5L1263 1181.5L1285.5 1182.1L1285.5 1185.7L1281.9 1185.7L1259.4 1185.1ZM1299.9 1182.5L1303.5 1182.5L1326 1183.1L1326 1186.7L1322.4 1186.7L1299.9 1186.1ZM1340.3 1183.5L1343.9 1183.5L1366.4 1183.9L1366.4 1187.5L1362.8 1187.5L1340.3 1187.1ZM1380.7 1184.3L1384.3 1184.3L1406.8 1184.7L1406.8 1188.3L1403.2 1188.3L1380.7 1187.9ZM1421.2 1185L1424.8 1185L1447.3 1185.3L1447.3 1188.9L1443.7 1188.9L1421.2 1188.6ZM1461.6 1185.6L1465.2 1185.6L1487.7 1185.9L1487.7 1189.5L1484.1 1189.5L1461.6 1189.2ZM1502.1 1186.1L1505.7 1186.1L1528.2 1186.4L1528.2 1190L1524.6 1190L1502.1 1189.7ZM1542.5 1186.6L1546.1 1186.6L1568.6 1186.8L1568.6 1190.4L1565 1190.4L1542.5 1190.2ZM1583 1187L1586.6 1187L1609.1 1187.2L1609.1 1190.8L1605.5 1190.8L1583 1190.6ZM1623.4 1187.3L1627 1187.3L1649.5 1187.5L1649.5 1191.1L1645.9 1191.1L1623.4 1190.9ZM1663.9 1187.7L1667.5 1187.7L1690 1187.8L1690 1191.4L1686.4 1191.4L1663.9 1191.3ZM1704.3 1187.9L1707.9 1187.9L1730.4 1188L1730.4 1191.6L1726.8 1191.6L1704.3 1191.5ZM1744.8 1188.1L1748.4 1188.1L1768.3 1188.3L1768.3 1191.9L1764.7 1191.9L1744.8 1191.7Z" fill="#0000ff"/>
</g>
<g>
<text class="sans" transform="translate(214.3 1316.0) scale(0.9880 1)" font-size="50.6">0</text>
<text class="sans" transform="translate(521.7 1316.0) scale(0.9880 1)" font-size="50.6">1</text>
<text class="sans" transform="translate(829.1 1316.0) scale(0.9880 1)" font-size="50.6">2</text>
<text class="sans" transform="translate(1136.5 1316.0) scale(0.9880 1)" font-size="50.6">3</text>
<text class="sans" transform="translate(1443.9 1316.0) scale(0.9880 1)" font-size="50.6">4</text>
<text class="sans" transform="translate(1751.3 1316.0) scale(0.9880 1)" font-size="50.6">5</text>
<text class="sans" transform="translate(179.9 1211.6) scale(0.9880 1)" font-size="50.6">0</text>
<text class="sans" transform="translate(110.6 1084.4) scale(0.9880 1)" font-size="50.6">0.05</text>
<text class="sans" transform="translate(138.7 957.2) scale(0.9880 1)" font-size="50.6">0.1</text>
<text class="sans" transform="translate(110.6 829.9) scale(0.9880 1)" font-size="50.6">0.15</text>
<text class="sans" transform="translate(138.8 702.7) scale(0.9880 1)" font-size="50.6">0.2</text>
<text class="sans" transform="translate(110.6 575.5) scale(0.9880 1)" font-size="50.6">0.25</text>
<text class="sans" transform="translate(138.5 448.3) scale(0.9880 1)" font-size="50.6">0.3</text>
<text class="sans" transform="translate(110.6 321.0) scale(0.9880 1)" font-size="50.6">0.35</text>
<text class="sans" transform="translate(137.8 193.8) scale(0.9880 1)" font-size="50.6">0.4</text>
<text class="sans" transform="translate(110.6 66.6) scale(0.9880 1)" font-size="50.6">0.45</text>
</g>
<text class="it lab" transform="translate(981.5 1380.6) scale(1.1935 1)" font-size="55">η</text>
<g transform="translate(75.4 770.8) rotate(-90)">
<text class="it lab" transform="translate(-2.8 0.0) scale(1.0494 1)" font-size="55.5">θ</text>
<text class="rm lab" transform="translate(29.6 0.0) scale(0.7974 1)" font-size="62.5">(</text>
<text class="it lab" transform="translate(47.8 0.0) scale(1.0494 1)" font-size="55.5">η</text>
<text class="rm lab" transform="translate(79.1 0.0) scale(0.7912 1)" font-size="62.5">)</text>
<text class="rm lab" transform="translate(101.6 0.0) scale(0.6412 1)" font-size="55.5">,</text>
<text class="it lab" transform="translate(132.1 0.0) scale(1.0494 1)" font-size="55.5">θ</text>
<text class="it lab" transform="translate(159.0 8.8) scale(1.0759 1)" font-size="38">p</text>
<text class="rm lab" transform="translate(183.6 0.0) scale(0.7974 1)" font-size="62.5">(</text>
<text class="it lab" transform="translate(201.8 0.0) scale(1.0494 1)" font-size="55.5">η</text>
<text class="rm lab" transform="translate(234.1 0.0) scale(0.8597 1)" font-size="62.5">)</text>
</g>
<g fill="#000" shape-rendering="crispEdges">
<path d="M1105 98H1221V99H1280V105H1215V104H1105Z"/>
<path d="M1114 171h21v6h-21zM1154 171h21v6h-21zM1195 171h21v6h-21zM1235 171h9v1h12v6h-21zM1276 172h13v6h-14v-1h1z"/>
</g>
<text class="rm" transform="translate(1354.1 121.2) scale(1.0979 1)" font-size="57">First</text>
<text class="rm" transform="translate(1488.2 121.2) scale(1.0543 1)" font-size="57">solution</text>
<text class="rm" transform="translate(1352.0 188.0) scale(1.0184 1)" font-size="57">Second</text>
<text class="rm" transform="translate(1541.9 188.0) scale(1.0549 1)" font-size="57">solution</text>
<path d="M1138 250H1715V420H1138ZM1141 253V417H1711V253Z" fill="#808080" fill-rule="evenodd" shape-rendering="crispEdges"/>
<rect x="1174" y="280" width="39" height="39" fill="#ff0000" shape-rendering="crispEdges"/>
<rect x="1174" y="341" width="39" height="39" fill="#0000ff" shape-rendering="crispEdges"/>
<text class="rm" transform="translate(1243.1 314.7) scale(1.0443 1)" font-size="52.4">Fluid-phase</text>
<text class="rm" transform="translate(1521.0 314.7) scale(0.9894 1)" font-size="52.4">velocity</text>
<text class="rm" transform="translate(1248.4 374.8) scale(1.0511 1)" font-size="52.4">Dust-phase</text>
<text class="rm" transform="translate(1515.6 374.8) scale(0.9930 1)" font-size="52.4">velocity</text>
<path d="M1140 457H1710V774H1140ZM1144 461V771H1706V461Z" fill="#808080" fill-rule="evenodd" shape-rendering="crispEdges"/>
<text class="it" transform="translate(1252.1 506.8) scale(1.1541 1)" font-size="51">φ</text>
<text class="rm" transform="translate(1284.0 514.8) scale(1.0883 1)" font-size="36.8">1</text>
<text class="rm op" transform="translate(1318.5 510.2) scale(1.4622 1)" font-size="51">=</text>
<text class="it" transform="translate(1373.1 506.8) scale(1.1739 1)" font-size="51">φ</text>
<text class="rm" transform="translate(1406.3 514.8) scale(0.9965 1)" font-size="36.8">2</text>
<text class="rm op" transform="translate(1439.5 510.2) scale(1.4622 1)" font-size="51">=</text>
<text class="rm" transform="translate(1493.8 506.8) scale(0.9912 1)" font-size="51">0.01</text>
<text class="rm" transform="translate(1584.6 506.8) scale(1.1455 1)" font-size="51">,</text>
<text class="it" transform="translate(1247.8 567.4) scale(1.1784 1)" font-size="51">λ</text>
<text class="rm op" transform="translate(1286.0 570.8) scale(1.4622 1)" font-size="51">=</text>
<text class="rm op" transform="translate(1341.0 570.8) scale(1.3905 1)" font-size="51">−</text>
<text class="rm" transform="translate(1379.4 567.4) scale(1.0304 1)" font-size="51">1</text>
<text class="rm" transform="translate(1407.1 567.4) scale(1.0006 1)" font-size="51">,</text>
<text class="it" transform="translate(1437.1 567.4) scale(0.9762 1)" font-size="51">ε</text>
<text class="rm op" transform="translate(1473.2 570.8) scale(1.4622 1)" font-size="51">=</text>
<text class="rm" transform="translate(1526.4 567.4) scale(1.0484 1)" font-size="51">1.0</text>
<text class="rm" transform="translate(1594.8 567.4) scale(0.9085 1)" font-size="51">,</text>
<text class="it" transform="translate(1256.3 628.1) scale(1.2078 1)" font-size="53">B</text>
<text class="it" transform="translate(1295.0 635.8) scale(0.9732 1)" font-size="37.5">v</text>
<text class="rm op" transform="translate(1326.6 631.5) scale(1.4832 1)" font-size="51">=</text>
<text class="it" transform="translate(1383.4 628.1) scale(1.2045 1)" font-size="53">B</text>
<text class="it" transform="translate(1419.1 635.7) scale(1.1640 1)" font-size="37.5">T</text>
<text class="rm op" transform="translate(1461.2 631.5) scale(1.4622 1)" font-size="51">=</text>
<text class="rm" transform="translate(1515.9 628.1) scale(1.0081 1)" font-size="51">0.5</text>
<text class="rm" transform="translate(1582.8 628.1) scale(1.0006 1)" font-size="51">,</text>
<text class="it" transform="translate(1297.9 688.7) scale(1.1480 1)" font-size="53">E</text>
<text class="it" transform="translate(1334.6 688.7) scale(1.0575 1)" font-size="51">c</text>
<text class="rm op" transform="translate(1369.4 692.1) scale(1.4790 1)" font-size="51">=</text>
<text class="it" transform="translate(1426.0 688.7) scale(1.1086 1)" font-size="51">s</text>
<text class="rm op" transform="translate(1461.1 692.1) scale(1.4832 1)" font-size="51">=</text>
<text class="rm" transform="translate(1515.6 688.7) scale(1.0369 1)" font-size="51">2</text>
<text class="rm" transform="translate(1543.7 688.7) scale(1.0006 1)" font-size="51">,</text>
<text class="it" transform="translate(1275.6 749.8) scale(1.0891 1)" font-size="51">σ</text>
<text class="rm" transform="translate(1303.0 757.8) scale(1.0497 1)" font-size="36.8">1</text>
<text class="rm op" transform="translate(1337.5 753.2) scale(1.4790 1)" font-size="51">=</text>
<text class="it" transform="translate(1392.2 749.8) scale(1.0732 1)" font-size="51">σ</text>
<text class="rm" transform="translate(1421.3 757.8) scale(1.0642 1)" font-size="36.8">2</text>
<text class="rm op" transform="translate(1454.5 753.2) scale(1.4706 1)" font-size="51">=</text>
<text class="rm" transform="translate(1509.3 749.8) scale(1.0340 1)" font-size="51">0.2</text>
<text class="it" transform="translate(532.2 838.3) scale(1.1426 1)" font-size="57">L</text>
<text class="rm op" transform="translate(580.8 841.9) scale(1.4364 1)" font-size="57">=</text>
<text class="rm" transform="translate(640.6 838.3) scale(1.0207 1)" font-size="57">0.2</text>
<text class="rm" transform="translate(713.8 838.3) scale(0.9660 1)" font-size="57">,</text>
<text class="rm" transform="translate(736.6 838.3) scale(1.0037 1)" font-size="57">0.5</text>
<text class="rm" transform="translate(810.2 838.3) scale(0.9071 1)" font-size="57">,</text>
<text class="rm" transform="translate(831.6 838.3) scale(1.0216 1)" font-size="57">1</text>
<path d="M267 1217L546 916.6" stroke="#000" stroke-width="4.2" fill="none" shape-rendering="crispEdges"/>
<path d="M565.8 895.2L534 907.8L555.6 928.2Z" fill="#000" stroke="#000" stroke-width="2" stroke-linejoin="round" shape-rendering="crispEdges"/>
</svg>
</body>
</html>
